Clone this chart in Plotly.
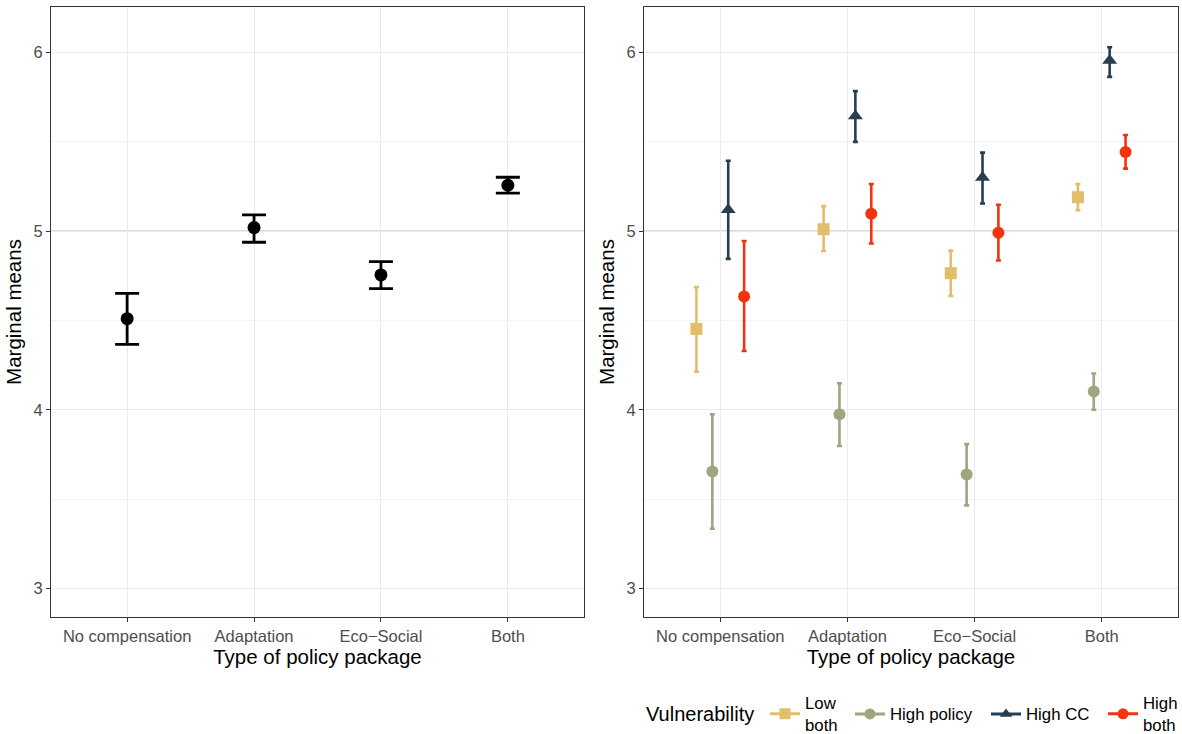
import plotly.graph_objects as go

categories = ["No compensation", "Adaptation", "Eco\u2212Social", "Both"]

# Left panel: overall marginal means
overall_mean = [4.51, 5.02, 4.755, 5.257]
overall_low = [4.366, 4.938, 4.678, 5.213]
overall_high = [4.652, 5.091, 4.829, 5.302]

# Right panel: by vulnerability group
legend_title = "Vulnerability"
groups = ["Low<br>both", "High policy", "High CC", "High<br>both"]
group_colors = ["#E2BE6B", "#A0A47F", "#263E50", "#F2330F"]
group_symbols = ["square", "circle", "triangle-up", "circle"]

low_both_mean = [4.453, 5.011, 4.765, 5.19]
low_both_low = [4.213, 4.889, 4.637, 5.117]
low_both_high = [4.687, 5.14, 4.891, 5.264]

high_policy_mean = [3.655, 3.975, 3.638, 4.103]
high_policy_low = [3.334, 3.797, 3.465, 4.0]
high_policy_high = [3.975, 4.149, 3.808, 4.203]

high_cc_mean = [5.12, 5.645, 5.30, 5.955]
high_cc_low = [4.845, 5.50, 5.155, 5.864]
high_cc_high = [5.394, 5.784, 5.44, 6.03]

high_both_mean = [4.634, 5.097, 4.991, 5.443]
high_both_low = [4.329, 4.931, 4.836, 5.35]
high_both_high = [4.945, 5.264, 5.148, 5.538]

group_data = [
    (low_both_mean, low_both_low, low_both_high),
    (high_policy_mean, high_policy_low, high_policy_high),
    (high_cc_mean, high_cc_low, high_cc_high),
    (high_both_mean, high_both_low, high_both_high),
]
dodge = [-0.1875, -0.0625, 0.0625, 0.1875]
legend_x_px = [765, 850, 986, 1103]  # layout: left edge of each legend entry

FONT = "Liberation Sans, Arial, sans-serif"
fig = go.Figure()

xpos = [1, 2, 3, 4]
fig.add_trace(go.Scatter(
    x=xpos, y=overall_mean, mode="markers",
    marker=dict(color="black", size=13, symbol="circle"),
    error_y=dict(type="data", symmetric=False,
                 array=[h - m for h, m in zip(overall_high, overall_mean)],
                 arrayminus=[m - l for m, l in zip(overall_mean, overall_low)],
                 color="black", thickness=2.8, width=12),
    showlegend=False, xaxis="x", yaxis="y", hoverinfo="skip"))

legend_layouts = {}
for g, (name, col, sym, (mn, lo, hi), d) in enumerate(zip(groups, group_colors, group_symbols, group_data, dodge)):
    fig.add_trace(go.Scatter(
        x=[p + d for p in xpos], y=mn, mode="markers",
        marker=dict(color=col, size=12 if sym != "triangle-up" else 13, symbol=sym),
        error_y=dict(type="data", symmetric=False,
                     array=[h - m for h, m in zip(hi, mn)],
                     arrayminus=[m - l for m, l in zip(mn, lo)],
                     color=col, thickness=2.6, width=2.5),
        showlegend=False, xaxis="x2", yaxis="y2", hoverinfo="skip"))
    lname = "legend" if g == 0 else f"legend{g + 1}"
    fig.add_trace(go.Scatter(
        x=[None], y=[None], mode="lines+markers", name=name,
        line=dict(color=col, width=3),
        marker=dict(color=col, size=11, symbol=sym),
        showlegend=True, legend=lname, xaxis="x2", yaxis="y2"))
    legend_layouts[lname] = dict(orientation="h", x=legend_x_px[g] / 1182, xanchor="left",
                                 y=1 - 714 / 734, yanchor="middle",
                                 font=dict(family=FONT, size=16.8, color="black"),
                                 itemwidth=30, bgcolor="rgba(0,0,0,0)")

yr = [2.84, 6.255]
xr = [0.4, 4.6]
ydom = [1 - 617 / 734, 1 - 7 / 734]

common_x = dict(range=xr, tickvals=xpos, ticktext=categories, showgrid=True,
                gridcolor="#EBEBEB", gridwidth=1, zeroline=False, automargin=False,
                showline=True, linecolor="#333333", linewidth=1, mirror=True,
                ticks="outside", ticklen=4, tickcolor="#333333",
                tickfont=dict(family=FONT, size=16.5, color="#4D4D4D"),
                title=dict(text="Type of policy package", font=dict(family=FONT, size=20.5, color="black"), standoff=2))
common_y = dict(range=yr, tickvals=[3, 4, 5, 6], showgrid=True,
                gridcolor="#EBEBEB", gridwidth=1, zeroline=False, automargin=False,
                showline=True, linecolor="#333333", linewidth=1, mirror=True,
                ticks="outside", ticklen=4, tickcolor="#333333",
                minor=dict(tickvals=[3.5, 4.5, 5.5], showgrid=True, gridcolor="#F3F3F3", gridwidth=0.6, ticks=""),
                tickfont=dict(family=FONT, size=16.5, color="#4D4D4D"),
                title=dict(text="Marginal means", font=dict(family=FONT, size=20.5, color="black"), standoff=6))

fig.update_layout(
    width=1182, height=734,
    margin=dict(l=0, r=0, t=0, b=0, autoexpand=False),
    paper_bgcolor="white", plot_bgcolor="white",
    font=dict(family=FONT),
    xaxis=dict(domain=[51 / 1182, 584 / 1182], anchor="y", **common_x),
    yaxis=dict(domain=ydom, anchor="x", **common_y),
    xaxis2=dict(domain=[644 / 1182, 1178 / 1182], anchor="y2", **common_x),
    yaxis2=dict(domain=ydom, anchor="x2", **common_y),
    annotations=[dict(text=legend_title, xref="paper", yref="paper", x=644 / 1182, y=1 - 714 / 734,
                      xanchor="left", yanchor="middle", showarrow=False,
                      font=dict(family=FONT, size=20, color="black"))],
    shapes=[
        dict(type="line", xref="x", yref="y", x0=xr[0], x1=xr[1], y0=5, y1=5, line=dict(color="#B3B3B3", width=1.3), layer="below"),
        dict(type="line", xref="x2", yref="y2", x0=xr[0], x1=xr[1], y0=5, y1=5, line=dict(color="#B3B3B3", width=1.3), layer="below"),
    ],
    **legend_layouts,
)

fig.write_html("out.html", config={"displayModeBar": False},
               post_script="document.body.style.margin='0';document.body.style.overflow='hidden';")
